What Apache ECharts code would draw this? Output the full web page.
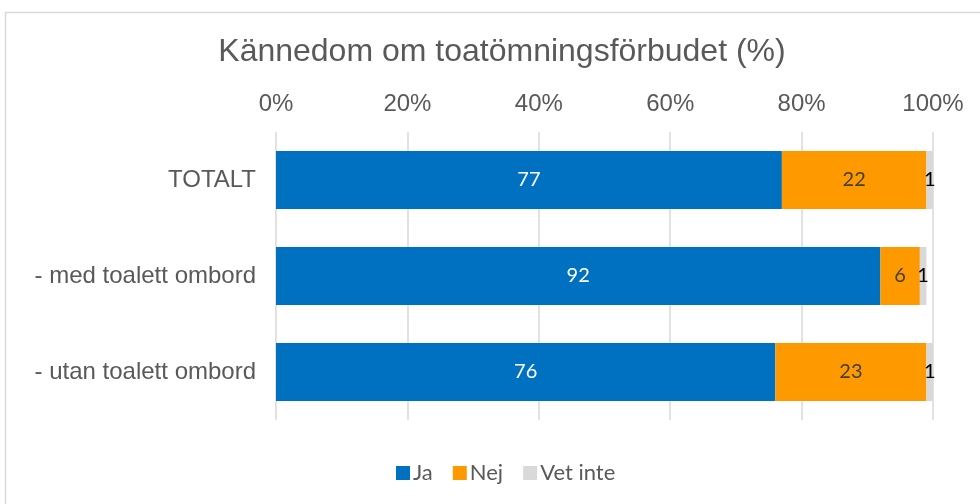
<!DOCTYPE html>
<html>
<head>
<meta charset="utf-8">
<script src="https://cdn.jsdelivr.net/npm/echarts@6/dist/echarts.min.js"></script>
<style>
  html, body { margin: 0; padding: 0; background: #ffffff; }
  #chart { width: 980px; height: 504px; }
</style>
</head>
<body>
<div id="chart"></div>
<script>
// Kännedom om toatömningsförbudet (%)
const categories = ['TOTALT', '- med toalett ombord', '- utan toalett ombord'];
const ja = [77, 92, 76];
const nej = [22, 6, 23];
const vetInte = [1, 1, 1];
const tickValues = [0, 20, 40, 60, 80, 100];

const labelFont = 'Lato, "Open Sans", sans-serif';
const axisFont = '"Liberation Sans", Arial, sans-serif';

const chart = echarts.init(document.getElementById('chart'), null, { renderer: 'canvas' });

function barSeries(name, data, color, labelColor) {
  return {
    name: name,
    type: 'bar',
    stack: 'total',
    data: data,
    barWidth: 58,
    itemStyle: { color: color },
    label: {
      show: true,
      position: 'inside',
      color: labelColor,
      fontFamily: labelFont,
      fontSize: 20,
      formatter: '{c}'
    },
    emphasis: { disabled: true }
  };
}

chart.setOption({
  animation: false,
  backgroundColor: '#ffffff',
  graphic: [{
    type: 'rect',
    shape: { x: 5.5, y: 12.5, width: 1000, height: 520 },
    style: { fill: 'none', stroke: '#d9d9d9', lineWidth: 1.5 },
    silent: true
  }],
  title: {
    text: 'Kännedom om toatömningsförbudet (%)',
    left: 497,
    textAlign: 'center',
    top: 31,
    textStyle: {
      fontFamily: axisFont,
      fontSize: 32,
      fontWeight: 'normal',
      color: '#595959'
    }
  },
  legend: {
    data: ['Ja', 'Nej', 'Vet inte'],
    left: 391,
    top: 457,
    itemWidth: 14,
    itemHeight: 14,
    itemGap: 20,
    icon: 'rect',
    textStyle: { fontFamily: labelFont, fontSize: 22, color: '#595959', padding: [0, 0, 0, -2] }
  },
  grid: {
    left: 276,
    right: 47,
    top: 132,
    bottom: 84
  },
  xAxis: {
    type: 'value',
    position: 'top',
    min: tickValues[0],
    max: tickValues[tickValues.length - 1],
    interval: tickValues[1] - tickValues[0],
    axisLine: { show: false },
    axisTick: { show: false },
    axisLabel: {
      formatter: '{value}%',
      fontFamily: axisFont,
      fontSize: 24,
      color: '#595959',
      margin: 16
    },
    splitLine: { show: true, lineStyle: { color: '#d9d9d9', width: 1.5 } }
  },
  yAxis: {
    type: 'category',
    data: categories,
    inverse: true,
    axisLine: { show: false },
    axisTick: { show: false },
    axisLabel: {
      fontFamily: axisFont,
      fontSize: 24,
      color: '#595959',
      margin: 20
    }
  },
  series: [
    barSeries('Ja', ja, '#0070C0', '#ffffff'),
    barSeries('Nej', nej, '#FF9900', '#404040'),
    barSeries('Vet inte', vetInte, '#D9D9D9', '#000000')
  ]
});
</script>
</body>
</html>
